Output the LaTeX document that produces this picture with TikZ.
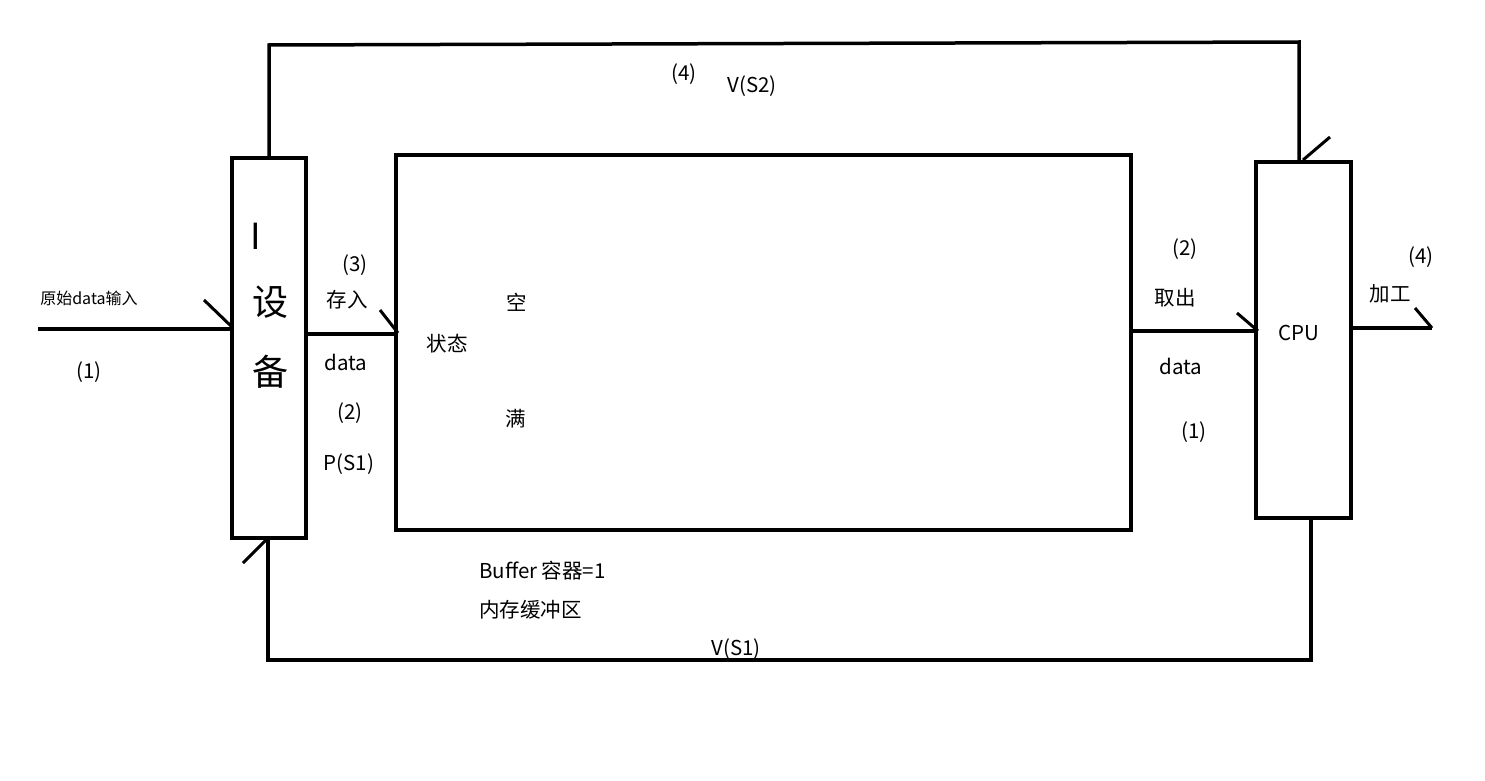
\documentclass[tikz,border=0pt]{standalone}
\usepackage{fontspec}
\setmainfont{Noto Sans CJK SC}
\begin{document}
\begin{tikzpicture}[x=1pt,y=-1pt,
  ln/.style={line width=3.5pt},
  tk/.style={line width=3pt},
  lbl/.style={font=\fontsize{20.5}{22}\selectfont,inner sep=0pt}]
\useasboundingbox (0,0) rectangle (1485,781);
\fill[white] (0,0) rectangle (1485,781);
\node[draw,ln,minimum width=74pt,minimum height=380pt,inner sep=0pt] (dev) at (269,348) {};
\node[draw,ln,minimum width=735pt,minimum height=375pt,inner sep=0pt] (buf) at (763.5,342.5) {};
\node[draw,ln,minimum width=95pt,minimum height=356pt,inner sep=0pt] (cpu) at (1303.5,340) {};
\node[font=\fontsize{36}{38}\selectfont,inner sep=0pt] (t1) at (256,236) {I};
\node[font=\fontsize{36}{38}\selectfont,inner sep=0pt] (t2) at (270,302) {设};
\node[font=\fontsize{36}{38}\selectfont,inner sep=0pt] (t3) at (270,372) {备};
\coordinate (in) at (38,329);
\draw[ln] (in) -- (in -| dev.west);
\coordinate (a1) at (204,300); \coordinate (a2) at (231,326);
\draw[tk] (a1) -- (a2);
\coordinate (d1) at (306,334);
\draw[ln] (d1) -- (d1 -| buf.west);
\coordinate (b1) at (380,310); \coordinate (b2) at (398,333);
\draw[tk] (b1) -- (b2);
\coordinate (c1) at (1131,331);
\draw[ln] (c1) -- (c1 -| cpu.west);
\coordinate (e1) at (1237,313); \coordinate (e2) at (1258,331);
\draw[tk] (e1) -- (e2);
\coordinate (o1) at (1351,328); \coordinate (o2) at (1432,328);
\draw[ln] (o1) -- (o2);
\coordinate (f1) at (1415,308);
\draw[tk] (f1) -- (o2);
\coordinate (u1) at (269,158); \coordinate (u2) at (1299,162);
\draw[ln] (u1) -- (269,45) -- (1299,42) -- (u2);
\coordinate (g1) at (1303,160); \coordinate (g2) at (1330,137);
\draw[tk] (g1) -- (g2);
\coordinate (l1) at (1311,518); \coordinate (l2) at (268,538);
\draw[ln] (l1) -- (1311,660) -- (268,660) -- (l2);
\coordinate (h1) at (243,563); \coordinate (h2) at (266,540);
\draw[tk] (h1) -- (h2);
\node[font=\fontsize{16}{18}\selectfont,inner sep=0pt] (n1) at (89,298) {原始data输入};
\node[lbl] (n2) at (89,372) {(1)};
\node[lbl] (n3) at (355,265) {(3)};
\node[lbl] (n4) at (347,300) {存入};
\node[lbl] (n5) at (346,362) {data};
\node[lbl] (n6) at (350,413) {(2)};
\node[lbl] (n7) at (349,464) {P(S1)};
\node[lbl] (n8) at (447,344) {状态};
\node[lbl] (n9) at (517,302) {空};
\node[lbl] (n10) at (516,419) {满};
\node[lbl,anchor=west] (n11) at (479,571) {Buffer 容器=1};
\node[lbl,anchor=west] (n12) at (479,610) {内存缓冲区};
\node[lbl] (n13) at (736,649) {V(S1)};
\node[lbl] (n14) at (684,74) {(4)};
\node[lbl] (n15) at (752,86) {V(S2)};
\node[lbl] (n16) at (1185,249) {(2)};
\node[lbl] (n17) at (1175,298) {取出};
\node[lbl] (n18) at (1181,366) {data};
\node[lbl] (n19) at (1194,432) {(1)};
\node[lbl] (n20) at (1299,333) {CPU};
\node[lbl] (n21) at (1421,257) {(4)};
\node[lbl] (n22) at (1390,294) {加工};
\end{tikzpicture}
\end{document}
